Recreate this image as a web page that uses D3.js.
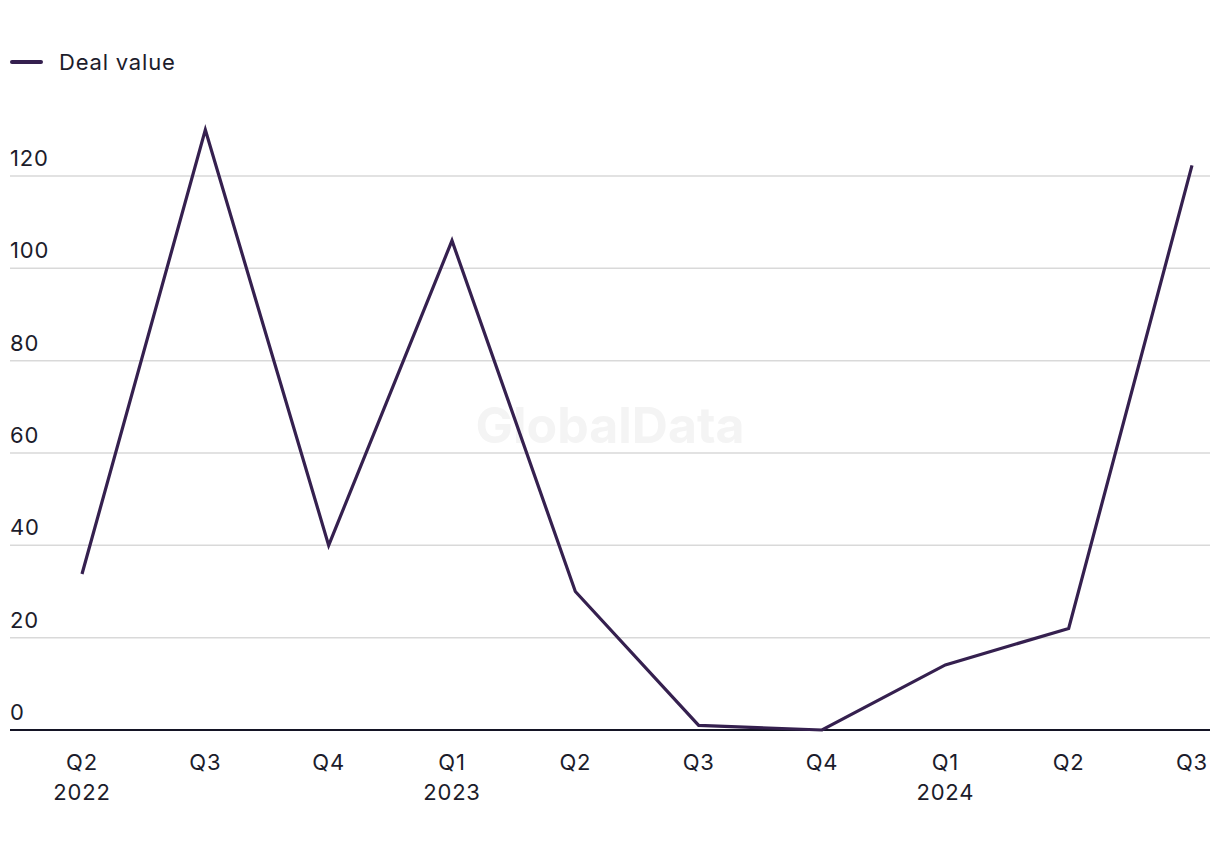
<!DOCTYPE html>
<html>
<head>
<meta charset="utf-8">
<script src="https://cdn.jsdelivr.net/npm/d3@7"></script>
<style>
  body { margin: 0; background: #fff; }
  text { font-family: Inter, "Liberation Sans", sans-serif; }
</style>
</head>
<body>
<div id="chart"></div>
<script>
// quarters on the x axis, with the year shown under the first quarter of each year
var quarters = ['Q2', 'Q3', 'Q4', 'Q1', 'Q2', 'Q3', 'Q4', 'Q1', 'Q2', 'Q3'];
var years = ['2022', '', '', '2023', '', '', '', '2024', '', ''];
var dealValue = [33.8, 130, 40, 106, 30, 1, 0, 14.1, 22, 122.3];
var yTicks = [0, 20, 40, 60, 80, 100, 120];

var width = 1220, height = 850;
var lineColor = '#35204f';
var textColor = '#1c1c2b';

var svg = d3.select('#chart').append('svg')
  .attr('width', width)
  .attr('height', height);

var keys = quarters.map(function (q, i) { return i; });

var x = d3.scalePoint()
  .domain(keys)
  .range([82, 1192]);

var y = d3.scaleLinear()
  .domain([0, 120])
  .range([730, 176]);

// watermark
svg.append('text')
  .attr('x', 610)
  .attr('y', 443)
  .attr('text-anchor', 'middle')
  .attr('font-size', 50)
  .attr('font-weight', 700)
  .attr('fill', '#f4f4f4')
  .text('GlobalData');

// gridlines
svg.append('g')
  .selectAll('line')
  .data(yTicks.filter(function (d) { return d !== 0; }))
  .enter().append('line')
  .attr('x1', 10)
  .attr('x2', 1210)
  .attr('y1', function (d) { return y(d); })
  .attr('y2', function (d) { return y(d); })
  .attr('stroke', '#d9d9d9')
  .attr('stroke-width', 1.5);

// y labels sit above their gridline
svg.append('g')
  .selectAll('text')
  .data(yTicks)
  .enter().append('text')
  .attr('x', 10)
  .attr('y', function (d) { return y(d) - 10; })
  .attr('font-size', 22)
  .attr('letter-spacing', 0.8)
  .attr('fill', textColor)
  .text(function (d) { return d; });

// baseline
svg.append('line')
  .attr('x1', 10)
  .attr('x2', 1210)
  .attr('y1', y(0))
  .attr('y2', y(0))
  .attr('stroke', '#141425')
  .attr('stroke-width', 2);

// x labels
var xl = svg.append('g')
  .selectAll('text')
  .data(keys)
  .enter().append('text')
  .attr('text-anchor', 'middle')
  .attr('font-size', 22)
  .attr('letter-spacing', 0.8)
  .attr('fill', textColor)
  .attr('x', function (d) { return x(d); })
  .attr('y', 770);

xl.append('tspan')
  .attr('x', function (d) { return x(d); })
  .text(function (d) { return quarters[d]; });

xl.append('tspan')
  .attr('x', function (d) { return x(d); })
  .attr('dy', 30)
  .text(function (d) { return years[d]; });

// the line
var line = d3.line()
  .x(function (d, i) { return x(i); })
  .y(function (d) { return y(d); });

svg.append('path')
  .datum(dealValue)
  .attr('d', line)
  .attr('fill', 'none')
  .attr('stroke', lineColor)
  .attr('stroke-width', 3.2)
  .attr('stroke-linejoin', 'miter');

// legend
var legend = svg.append('g').attr('transform', 'translate(12,62)');
legend.append('line')
  .attr('x1', 0)
  .attr('x2', 29)
  .attr('stroke', lineColor)
  .attr('stroke-width', 4)
  .attr('stroke-linecap', 'round');
legend.append('text')
  .attr('x', 47)
  .attr('y', 8)
  .attr('font-size', 22)
  .attr('letter-spacing', 0.8)
  .attr('fill', textColor)
  .text('Deal value');
</script>
</body>
</html>
